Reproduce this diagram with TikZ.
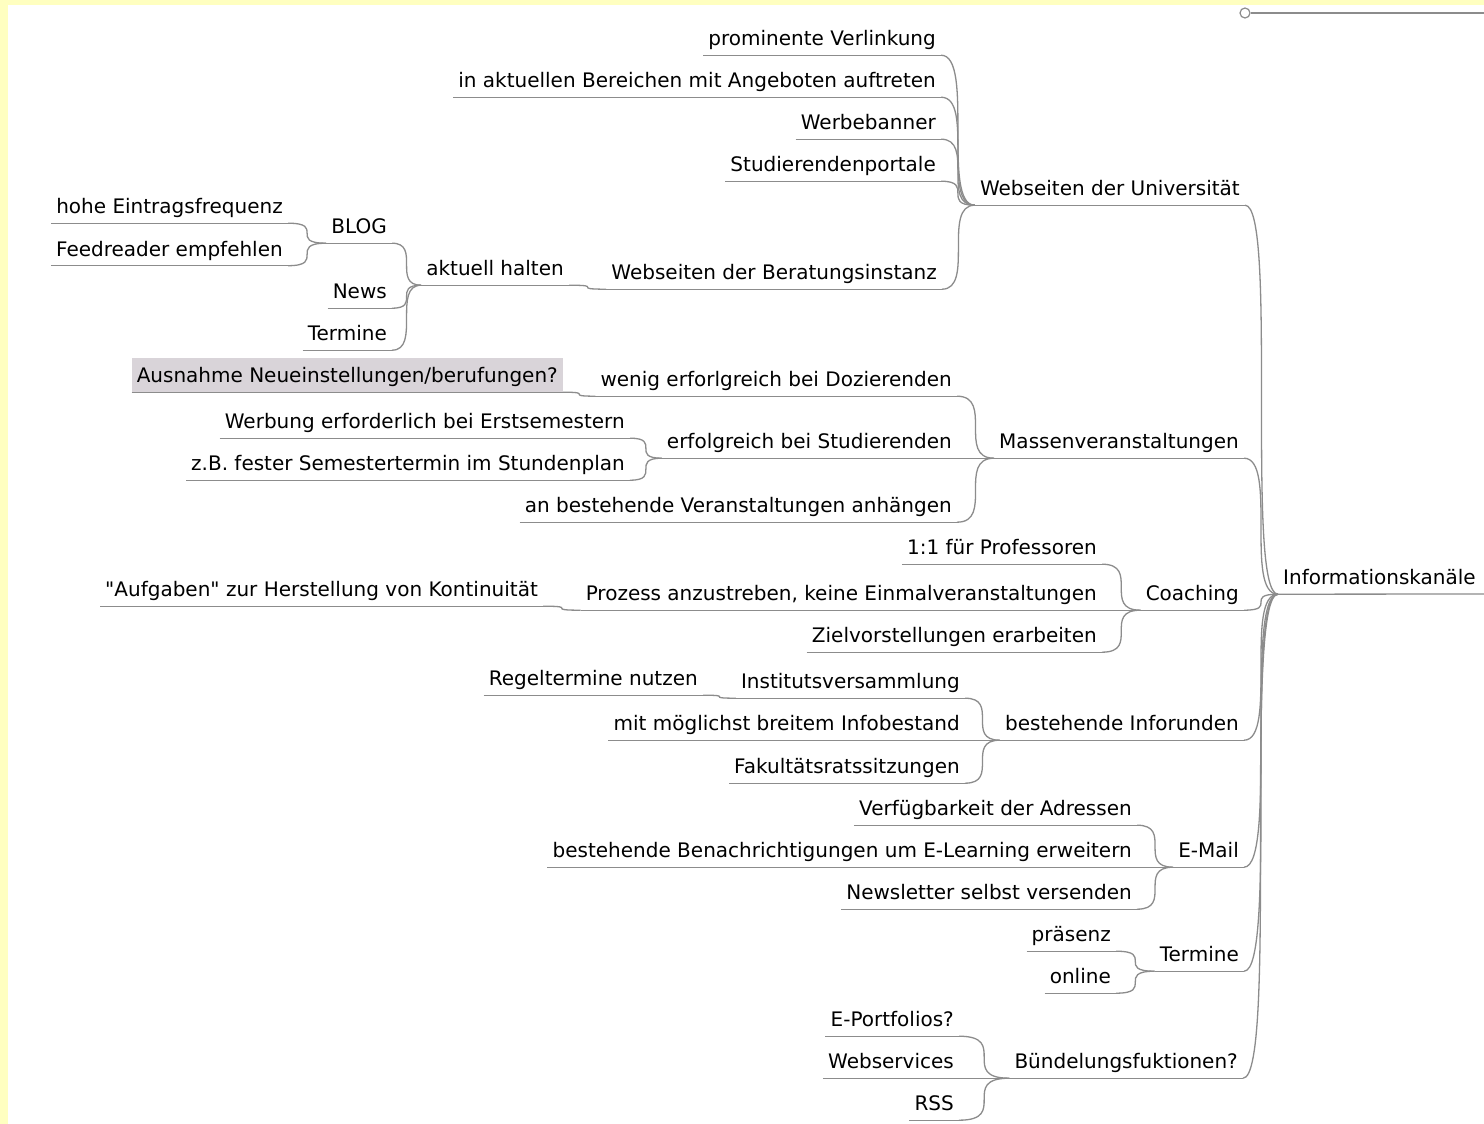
\documentclass[tikz,border=0pt]{standalone}
\usepackage{fontspec}
\newfontfamily\mmfont{DejaVu Sans}
\definecolor{linegray}{RGB}{140,140,140}
\definecolor{boxgray}{RGB}{217,212,217}
\definecolor{frameyellow}{RGB}{255,255,192}
\newcommand\mmconn[2]{\draw[edge] (#1.south east) .. controls (#1.south east -| #2.south west) and (#1.south east |- #2.south west) .. (#2.south west);}
\begin{document}
\begin{tikzpicture}[x=1pt,y=-1pt,
  txt/.style={font=\mmfont\fontsize{20}{24}\selectfont, inner xsep=5pt, inner ysep=5pt, text height=15pt, text depth=4.5pt, anchor=base east},
  edge/.style={draw=linegray, line width=1.3pt}]
\useasboundingbox (0,0) rectangle (1484,1124);
\fill[white] (0,0) rectangle (1484,1124);
\fill[frameyellow] (0,0) rectangle (8,1124);
\fill[frameyellow] (0,0) rectangle (1484,5);
% root
\node[txt, anchor=base west] (root) at (1278,584.5) {Informationskanäle};
\coordinate (rightedge) at (1484,594);
\draw[edge] (root.south west) -- (rightedge);
% cut-off node top right
\node[circle, draw=linegray, fill=white, line width=1.2pt, inner sep=0pt, minimum size=10pt] (fold) at (1245,13) {};
\coordinate (foldend) at (1484,13);
\draw[edge] (fold.east) -- (foldend);
% level 1
\node[txt] (WU) at (1245,195.5) {Webseiten der Universität};
\node[txt] (M) at (1244,448.5) {Massenveranstaltungen};
\node[txt] (C) at (1244,600.5) {Coaching};
\node[txt] (BI) at (1244,730.5) {bestehende Inforunden};
\node[txt] (EM) at (1244,857.5) {E-Mail};
\node[txt] (TM) at (1244,961.5) {Termine};
\node[txt] (BF) at (1243,1068.5) {Bündelungsfuktionen?};
% Webseiten der Universitaet
\node[txt] (pv) at (941,45.5) {prominente Verlinkung};
\node[txt] (ia) at (941,87.5) {in aktuellen Bereichen mit Angeboten auftreten};
\node[txt] (wb) at (941,129.5) {Werbebanner};
\node[txt] (sp) at (941,171.5) {Studierendenportale};
\node[txt] (bis) at (942,279.5) {Webseiten der Beratungsinstanz};
\node[txt] (ah) at (569,275.5) {aktuell halten};
\node[txt] (blog) at (392,233.5) {BLOG};
\node[txt] (hef) at (288,213.5) {hohe Eintragsfrequenz};
\node[txt] (fre) at (288,256) {Feedreader empfehlen};
\node[txt] (news) at (392,298.5) {News};
\node[txt] (term) at (392,340.5) {Termine};
% Massenveranstaltungen
\node[txt] (we) at (957,386.5) {wenig erforlgreich bei Dozierenden};
\node[txt, fill=boxgray, text height=20pt] (aus) at (563,382.5) {Ausnahme Neueinstellungen/berufungen?};
\node[txt] (es) at (957,448.5) {erfolgreich bei Studierenden};
\node[txt] (wer) at (630,428.5) {Werbung erforderlich bei Erstsemestern};
\node[txt] (zb) at (630,470.5) {z.B. fester Semestertermin im Stundenplan};
\node[txt] (ab) at (957,512.5) {an bestehende Veranstaltungen anhängen};
% Coaching
\node[txt] (pf) at (1102,554.5) {1:1 für Professoren};
\node[txt] (pz) at (1102,600.5) {Prozess anzustreben, keine Einmalveranstaltungen};
\node[txt] (auf) at (543,596.5) {"Aufgaben" zur Herstellung von Kontinuität};
\node[txt] (zv) at (1102,642.5) {Zielvorstellungen erarbeiten};
% bestehende Inforunden
\node[txt] (iv) at (965,688.5) {Institutsversammlung};
\node[txt] (rt) at (703,685.5) {Regeltermine nutzen};
\node[txt] (mb) at (965,730.5) {mit möglichst breitem Infobestand};
\node[txt] (fk) at (965,773.5) {Fakultätsratssitzungen};
% E-Mail
\node[txt] (va) at (1137,815.5) {Verfügbarkeit der Adressen};
\node[txt] (bb) at (1137,857.5) {bestehende Benachrichtigungen um E-Learning erweitern};
\node[txt] (nl) at (1137,899.5) {Newsletter selbst versenden};
% Termine
\node[txt] (pr) at (1116,941.5) {präsenz};
\node[txt] (on) at (1116,983.5) {online};
% Buendelung
\node[txt] (ep) at (959,1026.5) {E-Portfolios?};
\node[txt] (ws) at (959,1068.5) {Webservices};
\node[txt] (rss) at (959,1110.5) {RSS};
% underlines
\foreach \n in {WU,M,C,BI,EM,TM,BF,pv,ia,wb,sp,bis,ah,blog,hef,fre,news,term,we,aus,es,wer,zb,ab,pf,pz,auf,zv,iv,rt,mb,fk,va,bb,nl,pr,on,ep,ws,rss}
  \draw[edge] (\n.south west) -- (\n.south east);
% connectors
\mmconn{WU}{root}\mmconn{M}{root}\mmconn{C}{root}\mmconn{BI}{root}
\mmconn{EM}{root}\mmconn{TM}{root}\mmconn{BF}{root}
\mmconn{pv}{WU}\mmconn{ia}{WU}\mmconn{wb}{WU}\mmconn{sp}{WU}\mmconn{bis}{WU}
\mmconn{ah}{bis}
\mmconn{blog}{ah}\mmconn{news}{ah}\mmconn{term}{ah}
\mmconn{hef}{blog}\mmconn{fre}{blog}
\mmconn{we}{M}\mmconn{es}{M}\mmconn{ab}{M}
\mmconn{aus}{we}
\mmconn{wer}{es}\mmconn{zb}{es}
\mmconn{pf}{C}\mmconn{pz}{C}\mmconn{zv}{C}
\mmconn{auf}{pz}
\mmconn{iv}{BI}\mmconn{mb}{BI}\mmconn{fk}{BI}
\mmconn{rt}{iv}
\mmconn{va}{EM}\mmconn{bb}{EM}\mmconn{nl}{EM}
\mmconn{pr}{TM}\mmconn{on}{TM}
\mmconn{ep}{BF}\mmconn{ws}{BF}\mmconn{rss}{BF}
\end{tikzpicture}
\end{document}
